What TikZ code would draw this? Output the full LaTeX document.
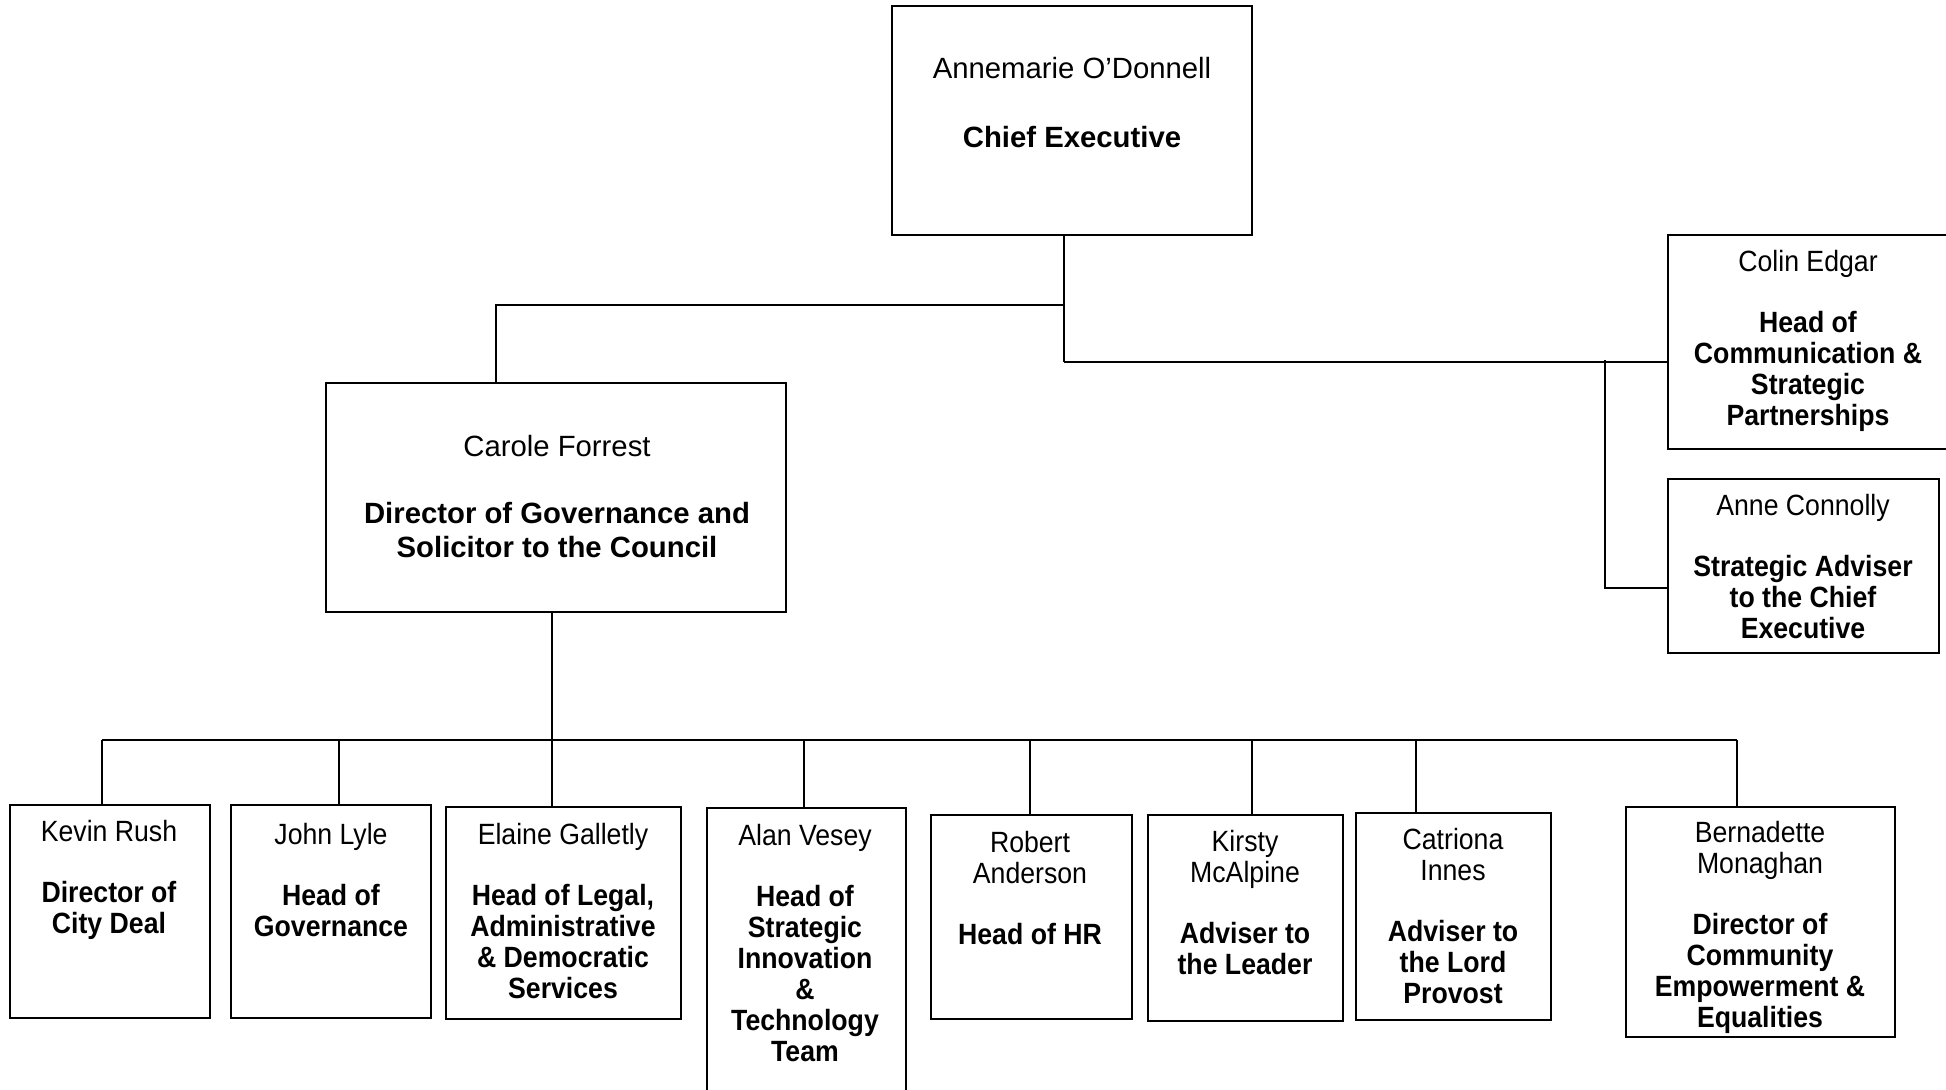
\documentclass[tikz,border=0pt]{standalone}
\usepackage{fontspec}
\setmainfont{Liberation Sans}
\newfontfamily\narrowfont[FakeStretch=0.91]{Liberation Sans}
\begin{document}
\begin{tikzpicture}[x=0.5pt,y=-0.5pt,
  box/.style={draw=black,line width=1pt,rectangle,inner sep=0pt},
  txt/.style={align=center,inner sep=0pt,font=\fontsize{14.65}{15.5}\selectfont},
  ntxt/.style={align=center,inner sep=0pt,font=\narrowfont\fontsize{14.65}{15.5}\selectfont},
  conn/.style={draw=black,line width=1pt}]
\useasboundingbox (0,0) rectangle (1946,1089);
% boxes
\node[box,minimum width=180pt,minimum height=114.5pt] (ce) at (1072,120.5) {};
\node[box,minimum width=230pt,minimum height=114.5pt] (cf) at (556,497.5) {};
\node[box,minimum width=141pt,minimum height=107pt] (colin) at (1809,342) {};
\node[box,minimum width=135.5pt,minimum height=87pt] (anne) at (1803.5,566) {};
\node[box,minimum width=100pt,minimum height=106.5pt] (kevin) at (110,911.5) {};
\node[box,minimum width=100pt,minimum height=106.5pt] (john) at (331,911.5) {};
\node[box,minimum width=117.5pt,minimum height=106pt] (elaine) at (563.5,913) {};
\node[box,minimum width=99.5pt,minimum height=146pt] (alan) at (806.5,954) {};
\node[box,minimum width=100.5pt,minimum height=102pt] (robert) at (1031.5,917) {};
\node[box,minimum width=97.5pt,minimum height=103pt] (kirsty) at (1245.5,918) {};
\node[box,minimum width=97.5pt,minimum height=103.5pt] (catriona) at (1453.5,916.5) {};
\node[box,minimum width=134.5pt,minimum height=115pt] (bern) at (1760.5,922) {};
% texts
\node[txt] (tce) at (1072,102.5) {Annemarie O’Donnell\\[19pt]\textbf{Chief Executive}};
\node[txt,font=\fontsize{14.65}{17}\selectfont] (tcf) at (557,496.5) {Carole Forrest\\[16.5pt]\textbf{Director of Governance and}\\\textbf{Solicitor to the Council}};
\node[ntxt] (tcolin) at (1808,341) {Colin Edgar\\[15pt]\textbf{Head of}\\\textbf{Communication \&}\\\textbf{Strategic}\\\textbf{Partnerships}};
\node[ntxt] (tanne) at (1803,566.5) {Anne Connolly\\[15pt]\textbf{Strategic Adviser}\\\textbf{to the Chief}\\\textbf{Executive}};
\node[ntxt] (tkevin) at (109,880) {Kevin Rush\\[15pt]\textbf{Director of}\\\textbf{City Deal}};
\node[ntxt] (tjohn) at (331,880) {John Lyle\\[15pt]\textbf{Head of}\\\textbf{Governance}};
\node[ntxt] (telaine) at (563,911) {Elaine Galletly\\[15pt]\textbf{Head of Legal,}\\\textbf{Administrative}\\\textbf{\& Democratic}\\\textbf{Services}};
\node[ntxt] (talan) at (805,943) {Alan Vesey\\[15pt]\textbf{Head of}\\\textbf{Strategic}\\\textbf{Innovation}\\\textbf{\&}\\\textbf{Technology}\\\textbf{Team}};
\node[ntxt] (trobert) at (1030,888) {Robert\\Anderson\\[15pt]\textbf{Head of HR}};
\node[ntxt] (tkirsty) at (1245,903) {Kirsty\\McAlpine\\[15pt]\textbf{Adviser to}\\\textbf{the Leader}};
\node[ntxt] (tcatriona) at (1453,916) {Catriona\\Innes\\[15pt]\textbf{Adviser to}\\\textbf{the Lord}\\\textbf{Provost}};
\node[ntxt] (tbern) at (1760,927) {Bernadette\\Monaghan\\[15pt]\textbf{Director of}\\\textbf{Community}\\\textbf{Empowerment \&}\\\textbf{Equalities}};
% junction coordinates
\coordinate (j1) at (1064,305);
\coordinate (j2) at (1064,362);
\coordinate (j3) at (496,305);
\coordinate (j4) at (1605,360);
\coordinate (j5) at (1605,588);
\coordinate (b0) at (552,740);
\coordinate (bl) at (102,740);
\coordinate (br) at (1737,740);
% connectors
\draw[conn] (ce.south -| j1) -- (j2);
\draw[conn] (j1) -- (j3) -- (cf.north -| j3);
\draw[conn] (j2) -- (colin.west |- j2);
\draw[conn] (j4) -- (j5) -- (anne.west |- j5);
\draw[conn] (cf.south -| b0) -- (b0);
\draw[conn] (bl) -- (br);
\draw[conn] (bl) -- (kevin.north -| bl);
\draw[conn] (339,740) -- (john.north -| 339,0);
\draw[conn] (b0) -- (elaine.north -| b0);
\draw[conn] (804,740) -- (alan.north -| 804,0);
\draw[conn] (1030,740) -- (robert.north -| 1030,0);
\draw[conn] (1252,740) -- (kirsty.north -| 1252,0);
\draw[conn] (1416,740) -- (catriona.north -| 1416,0);
\draw[conn] (br) -- (bern.north -| br);
\end{tikzpicture}
\end{document}
